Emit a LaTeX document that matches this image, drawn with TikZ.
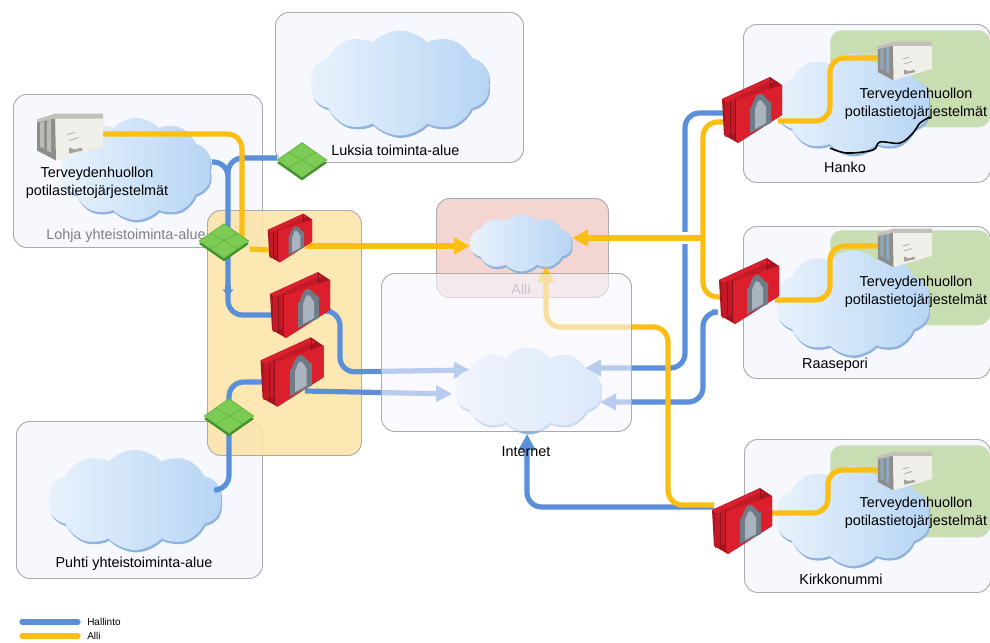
\documentclass[tikz,border=0pt]{standalone}
\usepackage{fontspec}
\setmainfont{Liberation Sans}
\usetikzlibrary{shapes.geometric,shapes.symbols,shadows,arrows.meta}
\definecolor{panelfill}{HTML}{F6F8FE}
\definecolor{panelline}{HTML}{ABABAB}
\definecolor{hblue}{HTML}{5B8FD9}
\definecolor{ayellow}{HTML}{FABE14}
\definecolor{greenzone}{HTML}{C9DDB2}
\definecolor{cloudL}{HTML}{E8F2FC}
\definecolor{cloudR}{HTML}{B7D5F4}
\definecolor{cloudS}{HTML}{8FB3DE}
\definecolor{gemF}{HTML}{7CCB55}
\definecolor{gemL}{HTML}{5FAF3D}
\definecolor{gemS}{HTML}{3F8F2C}
\definecolor{yelzone}{HTML}{FDE3A6}
\definecolor{pinkzone}{HTML}{F3D6D2}
\definecolor{netzone}{HTML}{F6F6FE}
\definecolor{fwA}{HTML}{A81520}\definecolor{fwB}{HTML}{D8202E}
\definecolor{fwC}{HTML}{C41A28}\definecolor{fwD}{HTML}{DC1F2D}
\definecolor{fwE}{HTML}{8E1219}\definecolor{fwF}{HTML}{6F7C88}
\definecolor{fwG}{HTML}{A9B4BE}\definecolor{srA}{HTML}{F1EFEA}
\definecolor{srB}{HTML}{8F8D8A}\definecolor{srC}{HTML}{C4C1BB}
\definecolor{srD}{HTML}{B2AFA8}\definecolor{srE}{HTML}{A5A29C}
\definecolor{slotgrey}{HTML}{BDBBB6}\definecolor{slotblue}{HTML}{8EA6BE}
\tikzset{
  x=.75pt,y=-.75pt,
  box/.style 2 args={rectangle,anchor=north west,inner sep=0pt,rounded corners=10pt,
    minimum width=#1*.75pt,minimum height=#2*.75pt},
  panel/.style={draw=panelline,line width=.7pt,fill=panelfill},
  greenbox/.style={fill=greenzone,rounded corners=9pt},
  cld/.style 2 args={cloud,cloud puffs=10,cloud puff arc=95,cloud ignores aspect,inner sep=0pt,
    minimum width=#1*.75pt,minimum height=#2*.75pt,left color=cloudL,right color=cloudR,
    general shadow={shadow xshift=.8pt,shadow yshift=-1.8pt,fill=cloudS}},
  bl/.style={draw=hblue,line width=3.9pt,rounded corners=11pt},
  yl/.style={draw=ayellow,line width=3.9pt,rounded corners=11pt},
  tip/.style={-{Triangle[length=12pt,width=12pt]}},
  tinytip/.style={-{Triangle[length=5pt,width=8pt]}},
  gem/.style={diamond,aspect=1.42,inner sep=0pt,minimum width=50*.75pt,minimum height=35*.75pt,
    fill=gemF,draw=gemL,line width=.4pt,
    general shadow={shadow yshift=-2.2pt,fill=gemS}},
  gemmark/.style={draw=gemL,line width=.4pt},
  hold/.style 2 args={rectangle,inner sep=0pt,minimum width=#1*.75pt,minimum height=#2*.75pt},
  lbl/.style={font=\fontsize{10.8}{13.6}\selectfont,align=center,inner sep=0pt},
}
% firewall drawn around the centre of a holder node; local box 60 x 66
\newcommand{\fwdraw}[2]{%
  \begin{scope}[shift={(#1.center)},scale=#2,shift={(-30,-33)}]
    \fill[fwA] (0,22)--(48,0)--(60,8)--(60,38)--(16,66)--(2,58)--cycle;
    \fill[fwB] (0,22)--(47,1)--(52,5)--(5,26)--cycle;
    \fill[fwC] (3,26)--(47,5)--(47,42)--(3,60)--cycle;
    \fill[fwD] (13,24)--(60,8)--(60,38)--(16,66)--(13,60)--cycle;
    \draw[fwE,line width=.5pt] (8,24)--(8,61) (13,22)--(13,64) (48,1)--(48,10);
    \fill[fwF] (28,56)--(28,30) to[out=-80,in=180] (38,17) to[out=0,in=-95] (49,24)--(49,46)--cycle;
    \fill[fwG] (33,52)--(33,31) to[out=-80,in=180] (38,23) to[out=0,in=-90] (44,29)--(44,46)--cycle;
  \end{scope}}
% server drawn around the centre of a holder node; local box 66 x 47
\newcommand{\srvdraw}[3]{%
  \begin{scope}[shift={(#1.center)},scale=#2,shift={(-33,-23.5)}]
    \fill[srA] (18,1)--(66,1)--(66,33)--(19,47)--cycle;
    \fill[srB] (0,6)--(18,1)--(19,47)--(0,37)--cycle;
    \fill[#3] (3,9)--(7,8)--(7,35)--(3,33)--cycle;
    \fill[#3] (10,7)--(14,6)--(14,39)--(10,37)--cycle;
    \fill[srC] (0,6)--(18,0)--(66,0)--(66,5)--(18,5)--(0,9)--cycle;
    \draw[srD,line width=.6pt] (32,27)--(42,24) (30,21)--(38,19);
    \fill[srE] (32,40)--(32,34)--(38,36)--(44,34)--(46,37)--cycle;
  \end{scope}}
\begin{document}
\begin{tikzpicture}
\useasboundingbox (0,0) rectangle (990,643);
% holders for items painted later
\node[hold={44}{49}] (fwA) at (290,238) {};
\node[hold={60}{66}] (fwB) at (300,305) {};
\node[hold={60}{70}] (fwC) at (292,372) {};
\node[hold={60}{67}] (fwH) at (752,110) {};
\node[hold={60}{66}] (fwR) at (749,291) {};
\node[hold={58}{69}] (fwK) at (742,521) {};
\node[hold={66}{47}] (srvL) at (70,137) {};
\node[hold={54}{38}] (srvH) at (905,61) {};
\node[hold={54}{38}] (srvR) at (905,248) {};
\node[hold={54}{38}] (srvK) at (905,471) {};
% zones
\node[box={248}{150},panel] (zLuksia) at (275,12) {};
\node[box={249}{153},panel] (zLohja) at (13,94) {};
\node[box={246}{157},panel] (zPuhti) at (16,421) {};
\node[box={247}{158},panel] (zHanko) at (743,24) {};
\node[box={247}{152},panel] (zRaas) at (743,226) {};
\node[box={246}{153},panel] (zKirk) at (744,439) {};
\node[box={160}{97},greenbox] (gHanko) at (830,30) {};
\node[box={160}{95},greenbox] (gRaas) at (830,230) {};
\node[box={160}{92},greenbox] (gKirk) at (830,445) {};
% clouds
\node[cld={180}{105}] (cLuksia) at (400,83) {};
\node[cld={152}{102}] (cLohja) at (136,169) {};
\node[cld={174}{100}] (cPuhti) at (135,500) {};
\node[cld={155}{100}] (cHanko) at (853,104) {};
\node[cld={155}{105}] (cRaas) at (853,303) {};
\node[cld={155}{100}] (cKirk) at (853,516) {};
\coordinate (arcA) at (830,148);
\coordinate (arcB) at (930,117);
\draw[line width=1.2pt,black] plot[smooth,tension=.6] coordinates {(arcA) (847,153) (873,150) (880,142) (900,143) (913,133) (920,123) (arcB)};
\node[lbl,text=gray,anchor=west] (tLohja) at (46,236) {Lohja yhteistoiminta-alue};
% shared-zone backdrops
\node[box={154}{245},draw=panelline,line width=.7pt,fill=yelzone,fill opacity=.85] (zYellow) at (207,210) {};
\node[box={172}{99},draw=panelline,line width=.7pt,fill=pinkzone] (zAlli) at (436,198) {};
\node[cld={102}{57}] (cAlli) at (521,243) {};
\node[lbl,text=gray] (tAlli) at (521,289) {Alli};
% connector ends
\coordinate (a1) at (103,134);
\coordinate (a2) at (242,240);
\coordinate (a3) at (250,249);
\coordinate (a4) at (270,250);
\coordinate (a5) at (305,246);
\coordinate (a6) at (470,246);
\coordinate (b1) at (212,162);
\coordinate (b2) at (228,315);
\coordinate (b3) at (277,158);
\coordinate (b4) at (228,175);
\coordinate (b5) at (272,315);
\coordinate (b6) at (228,285);
\coordinate (b7) at (228,296);
\coordinate (c1) at (331,311);
\coordinate (c2) at (470,370);
\coordinate (c3) at (262,382);
\coordinate (c4) at (229,402);
\coordinate (c5) at (229,432);
\coordinate (c6) at (218,490);
\coordinate (c7) at (305,391);
\coordinate (c8) at (452,394);
\coordinate (d1) at (724,113);
\coordinate (d2) at (585,368);
\coordinate (d3) at (712,312);
\coordinate (d4) at (600,402);
\coordinate (d5) at (714,507);
\coordinate (d6) at (527,434);
\coordinate (e1) at (724,122);
\coordinate (e2) at (720,297);
\coordinate (e3) at (703,238);
\coordinate (e4) at (572,238);
\coordinate (e5) at (714,505);
\coordinate (e6) at (546,266);
\coordinate (f1) at (778,121);
\coordinate (f2) at (880,58);
\coordinate (f3) at (775,300);
\coordinate (f4) at (880,246);
\coordinate (f5) at (772,513);
\coordinate (f6) at (880,470);
\coordinate (x1) at (685,232);
\coordinate (x2) at (685,244);
% blue links
\draw[bl] (b1) -- (228,162) -- (b2) -- (b5);
\draw[bl,tinytip] (b6) -- (b7);
\draw[bl] (b3) -- (228,158) -- (b4);
\draw[bl,tip] (c1) -- (340,311) -- (340,372) -- (c2);
\draw[bl] (c3) -| (c4);
\draw[bl] (c5) |- (c6);
\draw[bl,tip] (c7) -- (c8);
\draw[bl,tip] (d1) -- (685,113) -- (685,368) -- (d2);
\draw[bl,tip] (d3) -- (703,312) -- (703,402) -- (d4);
\draw[bl,tip] (d5) -- (527,507) -- (d6);
\draw[white,line width=5.5pt] (x1) -- (x2);
% yellow links
\draw[yl] (a1) -| (a2);
\draw[yl] (a3) -- (a4);
\draw[yl,tip] (a5) -- (a6);
\draw[yl] (e1) -- (703,122) -- (703,297) -- (e2);
\draw[yl,tip] (e3) -- (e4);
\draw[yl,tip] (e5) -- (668,505) -- (668,327) -- (546,327) -- (e6);
\draw[yl] (f1) -- (830,121) -- (830,58) -- (f2);
\draw[yl] (f3) -- (830,300) -- (830,246) -- (f4);
\draw[yl] (f5) -- (828,513) -- (828,470) -- (f6);
% internet
\node[cld={147}{84}] (cNet) at (528,390) {};
\node[box={250}{158},draw=panelline,line width=.7pt,fill=netzone,fill opacity=.6] (zNet) at (381,273) {};
% equipment
\node[gem] (swL) at (302,160) {};
\node[gem] (swO) at (224,241) {};
\node[gem] (swP) at (229,416) {};
\draw[gemmark] (swL.150) -- (swL.-30) (swL.30) -- (swL.-150);
\draw[gemmark] (swO.150) -- (swO.-30) (swO.30) -- (swO.-150);
\draw[gemmark] (swP.150) -- (swP.-30) (swP.30) -- (swP.-150);
\fwdraw{fwA}{.74}
\fwdraw{fwB}{1}
\fwdraw{fwC}{1.05}
\fwdraw{fwH}{1}
\fwdraw{fwR}{1}
\fwdraw{fwK}{1}
\srvdraw{srvL}{1}{slotgrey}
\srvdraw{srvH}{.82}{slotblue}
\srvdraw{srvR}{.82}{slotblue}
\srvdraw{srvK}{.82}{slotblue}
% labels
\node[lbl] (tL) at (97,183) {Terveydenhuollon\\potilastietojärjestelmät};
\node[lbl,anchor=west] (tLuksia) at (331,150) {Luksia toiminta-alue};
\node[lbl] (tNet) at (526,452) {Internet};
\node[lbl] (tPuhti) at (134,564) {Puhti yhteistoiminta-alue};
\node[lbl] (tH) at (916,104) {Terveydenhuollon\\potilastietojärjestelmät};
\node[lbl] (tR) at (916,292) {Terveydenhuollon\\potilastietojärjestelmät};
\node[lbl] (tK) at (916,513) {Terveydenhuollon\\potilastietojärjestelmät};
\node[lbl] (tHanko) at (845,167) {Hanko};
\node[lbl] (tRaas) at (835,365) {Raasepori};
\node[lbl] (tKirk) at (841,579) {Kirkkonummi};
% legend
\coordinate (l1) at (22,622);
\coordinate (l2) at (78,622);
\coordinate (l3) at (22,636);
\coordinate (l4) at (78,636);
\draw[bl,line cap=round] (l1) -- (l2);
\draw[yl,line cap=round] (l3) -- (l4);
\node[anchor=west,inner sep=0pt,font=\fontsize{7.5}{8}\selectfont] (tH1) at (87,622) {Hallinto};
\node[anchor=west,inner sep=0pt,font=\fontsize{7.5}{8}\selectfont] (tA1) at (87,636) {Alli};
\end{tikzpicture}
\end{document}
